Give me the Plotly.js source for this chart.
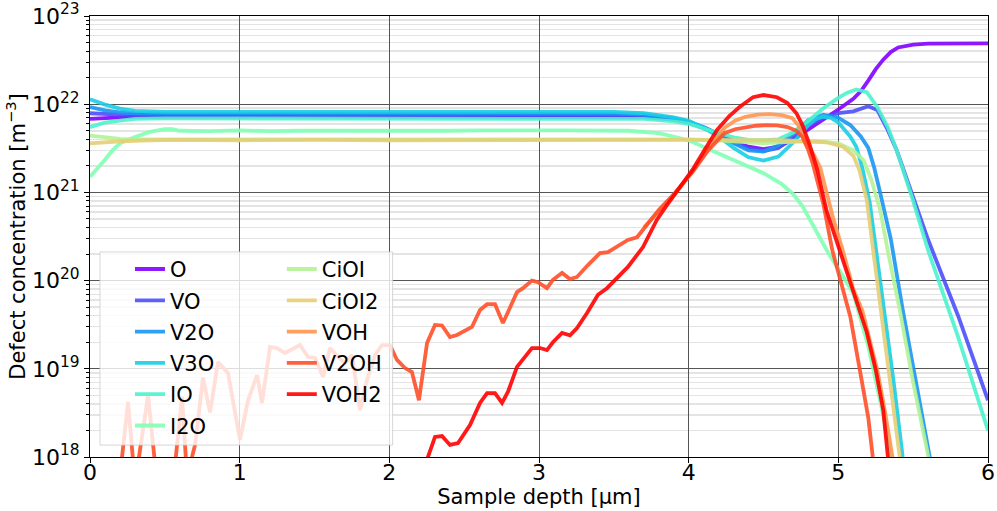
<!DOCTYPE html>
<html><head><meta charset="utf-8">
<script src="https://cdn.plot.ly/plotly-3.0.1.min.js"></script>
<style>html,body{margin:0;padding:0;background:#fff}#chart{width:997px;height:511px}</style>
</head><body><div id="chart"></div>
<script>
// ---- data (depth in µm, concentration in m^-3) ----
const x_O   = [0,0.1,0.2,0.3,0.5,1.0,1.5,2.0,2.5,3.0,3.5,3.7,3.9,4.0,4.1,4.2,4.3,4.4,4.5,4.6,4.7,4.8,4.9,5.0,5.1,5.15,5.2,5.25,5.3,5.35,5.4,5.5,5.6,5.8,6.0];
const y_O   = [6.8e21,7.0e21,7.1e21,7.2e21,7.25e21,7.25e21,7.3e21,7.25e21,7.25e21,7.3e21,7.25e21,7.1e21,6.7e21,6.2e21,5.4e21,4.6e21,3.8e21,3.3e21,3.1e21,3.3e21,4.0e21,5.2e21,6.6e21,8.7e21,1.15e22,1.4e22,1.85e22,2.5e22,3.2e22,3.9e22,4.4e22,4.75e22,4.85e22,4.9e22,4.9e22];

const x_VO  = [0,0.1,0.2,0.4,0.5,1.0,1.5,2.0,2.5,3.0,3.5,3.7,3.9,4.0,4.1,4.2,4.3,4.4,4.5,4.6,4.7,4.8,4.9,5.0,5.1,5.2,5.26,5.33,5.39,5.5,5.6,5.8,6.0];
const y_VO  = [7.9e21,7.7e21,7.6e21,7.5e21,7.5e21,7.55e21,7.5e21,7.5e21,7.55e21,7.5e21,7.5e21,7.35e21,6.8e21,6.2e21,5.4e21,4.6e21,3.7e21,3.15e21,2.95e21,3.2e21,4.2e21,5.8e21,7.0e21,7.9e21,8.3e21,9.5e21,8.6e21,5.1e21,3.0e21,8.8e20,2.9e20,4.0e19,4.4e18];

const x_V2O = [0,0.1,0.2,0.3,0.5,1.0,1.5,2.0,2.5,3.0,3.5,3.7,3.9,4.0,4.1,4.2,4.3,4.4,4.5,4.6,4.7,4.8,4.9,5.0,5.08,5.15,5.2,5.24,5.28,5.35,5.43,5.52,5.61,5.66];
const y_V2O = [9.3e21,8.5e21,8.1e21,7.9e21,7.8e21,7.8e21,7.85e21,7.8e21,7.8e21,7.85e21,7.8e21,7.6e21,6.9e21,6.3e21,5.5e21,4.6e21,3.6e21,3.0e21,2.9e21,3.4e21,4.7e21,6.6e21,7.6e21,7.0e21,5.8e21,4.3e21,3.2e21,1.9e21,9.8e20,3.0e20,4.7e19,6.5e18,1.0e18,3.5e17];

const x_V3O = [0,0.1,0.2,0.3,0.5,1.0,1.5,2.0,2.5,3.0,3.5,3.7,3.9,4.0,4.1,4.2,4.3,4.4,4.5,4.6,4.7,4.8,4.85,4.9,4.95,5.0,5.08,5.12,5.16,5.21,5.25,5.3,5.37,5.43,5.47];
const y_V3O = [1.14e22,9.9e21,8.9e21,8.4e21,8.2e21,8.2e21,8.25e21,8.2e21,8.2e21,8.25e21,8.2e21,7.9e21,7.1e21,6.5e21,5.4e21,4.3e21,3.2e21,2.5e21,2.3e21,2.55e21,3.7e21,5.8e21,6.8e21,7.2e21,7.0e21,6.2e21,4.3e21,3.3e21,1.9e21,7.6e20,2.4e20,5.2e19,7e18,1.0e18,3.5e17];

const x_IO  = [0,0.1,0.2,0.3,0.5,1.0,1.5,2.0,2.5,3.0,3.5,3.7,3.9,4.0,4.1,4.2,4.3,4.4,4.5,4.6,4.7,4.8,4.9,5.0,5.06,5.12,5.19,5.26,5.33,5.39,5.5,5.6,5.8,6.0];
const y_IO  = [5.5e21,6.2e21,6.5e21,6.8e21,6.9e21,6.9e21,6.95e21,6.9e21,6.9e21,6.95e21,6.9e21,6.8e21,6.4e21,6.0e21,5.3e21,4.7e21,4.2e21,3.95e21,3.9e21,4.0e21,4.8e21,6.5e21,9.0e21,1.18e22,1.35e22,1.47e22,1.37e22,9.3e21,5.5e21,3.0e21,8.0e20,2.2e20,2.3e19,2.0e18];

const x_I2O = [0,0.05,0.1,0.15,0.2,0.3,0.4,0.5,0.55,0.6,0.8,1.0,1.2,1.4,1.6,1.8,2.0,2.2,2.4,2.6,2.8,3.0,3.2,3.4,3.6,3.8,4.0,4.15,4.35,4.5,4.62,4.7,4.76,4.84,4.93,5.02,5.1,5.2,5.3,5.36];
const y_I2O = [1.5e21,1.85e21,2.35e21,3.0e21,3.6e21,4.25e21,4.85e21,5.2e21,5.2e21,5.0e21,4.95e21,5.05e21,4.95e21,5.0e21,4.95e21,5.0e21,5.0e21,4.95e21,5.0e21,5.05e21,5.0e21,5.05e21,5.05e21,5.0e21,5.0e21,4.7e21,3.9e21,3.0e21,2.1e21,1.65e21,1.25e21,9.5e20,7.0e20,3.9e20,2.1e20,1.2e20,7.2e19,1.8e19,3e18,8e17];

const x_CiOI = [0,0.1,0.2,0.3,0.5,1.0,1.5,2.0,2.5,3.0,3.5,4.0,4.2,4.4,4.5,4.6,4.8,4.9,5.0,5.1,5.17,5.22,5.28,5.33,5.41,5.5,5.6,5.65];
const y_CiOI = [4.4e21,4.2e21,4.05e21,4.0e21,4.0e21,4.0e21,4.02e21,4.0e21,4.0e21,4.02e21,4.02e21,4.0e21,3.9e21,3.7e21,3.6e21,3.7e21,3.8e21,3.75e21,3.6e21,3.0e21,2.3e21,1.4e21,6.3e20,2.2e20,4.7e19,7e18,1.1e18,4e17];

const x_CiOI2 = [0,0.1,0.2,0.4,0.6,1.0,1.5,2.0,2.5,3.0,3.5,4.0,4.3,4.6,4.8,4.92,5.03,5.1,5.14,5.19,5.23,5.28,5.34,5.40,5.45];
const y_CiOI2 = [3.6e21,3.7e21,3.8e21,3.9e21,3.95e21,3.9e21,3.95e21,3.9e21,3.92e21,3.95e21,3.92e21,3.95e21,3.9e21,3.9e21,3.8e21,3.7e21,3.3e21,2.6e21,1.8e21,8.2e20,2.4e20,5.0e19,7e18,1.0e18,3e17];

const x_VOH = [3.7,3.8,3.9,4.03,4.13,4.24,4.31,4.38,4.46,4.54,4.62,4.69,4.74,4.79,4.84,4.88,4.96,5.03,5.1,5.16,5.26,5.31,5.36,5.4];
const y_VOH = [4.0e20,6.1e20,9.3e20,1.75e21,3.1e21,5.4e21,6.5e21,7.2e21,7.6e21,7.7e21,7.5e21,7.0e21,5.6e21,3.6e21,2.6e21,1.9e21,5.5e20,2.2e20,8e19,4.6e19,9.7e18,3.4e18,1.0e18,4e17];

const x_V2OH = [0,0.2,0.254,0.301,0.388,0.448,0.555,0.615,0.648,0.702,0.755,0.802,0.855,0.922,1.002,1.056,1.116,1.149,1.203,1.249,1.303,1.403,1.457,1.503,1.557,1.604,1.657,1.704,1.751,1.804,1.851,1.904,1.951,2.004,2.051,2.105,2.151,2.198,2.252,2.305,2.352,2.405,2.452,2.552,2.606,2.653,2.706,2.759,2.793,2.853,2.893,2.953,2.993,3.053,3.093,3.154,3.207,3.254,3.327,3.407,3.461,3.541,3.594,3.655,3.72,3.8,3.9,4.03,4.13,4.24,4.31,4.38,4.45,4.52,4.59,4.66,4.72,4.76,4.8,4.83,4.9,4.96,5.02,5.08,5.14,5.2,5.23,5.26];
const y_V2OH = [2e17,6e17,4.2e18,5e17,5.0e18,5e17,5e17,4.8e18,6e17,1.37e18,7.9e18,3.2e18,1.19e19,9.0e18,1.56e18,4.4e18,8.5e18,4.1e18,1.77e19,1.72e19,1.51e19,1.86e19,1.36e19,1.33e19,8.1e18,1.72e19,1.36e19,1.16e19,1.43e19,3.4e18,7.5e18,1.43e19,1.86e19,1.86e19,1.26e19,1.02e19,9.2e18,4.4e18,1.96e19,3.14e19,3.1e19,2.29e19,2.42e19,2.98e19,4.64e19,5.4e19,5.4e19,3.3e19,4.4e19,7.4e19,8.2e19,1.0e20,9.6e19,8.2e19,1.02e20,1.22e20,1.04e20,1.1e20,1.5e20,2.05e20,2.1e20,2.53e20,2.89e20,3.1e20,4.3e20,6.3e20,9.5e20,1.75e21,3.0e21,4.7e21,5.2e21,5.5e21,5.7e21,5.8e21,5.75e21,5.5e21,5.0e21,4.25e21,3.0e21,2.1e21,7.4e20,2.2e20,9.4e19,3.9e19,1.05e19,2.8e18,1.0e18,5e17];

const x_VOH2 = [2.2,2.258,2.305,2.352,2.405,2.459,2.539,2.606,2.653,2.706,2.753,2.793,2.853,2.953,3.007,3.053,3.093,3.154,3.207,3.254,3.321,3.394,3.454,3.521,3.594,3.695,3.788,3.85,3.94,4.03,4.11,4.19,4.27,4.34,4.43,4.5,4.59,4.66,4.72,4.76,4.81,4.86,4.92,4.99,5.06,5.12,5.19,5.25,5.30,5.33,5.36];
const y_VOH2 = [3e17,1.0e18,1.69e18,1.73e18,1.37e18,1.44e18,2.3e18,4.1e18,5.3e18,5.3e18,4.1e18,5.5e18,1.05e19,1.72e19,1.72e19,1.63e19,2.0e19,2.55e19,2.4e19,2.9e19,4.3e19,6.9e19,8.2e19,1.07e20,1.43e20,2.4e20,4.9e20,7.0e20,1.15e21,1.85e21,3.1e21,5.1e21,7.3e21,9.3e21,1.2e22,1.27e22,1.2e22,1.03e22,7.9e21,5.8e21,3.4e21,1.8e21,6.3e20,2.7e20,1.2e20,6e19,2.6e19,9.7e18,3.4e18,1.05e18,5e17];

const seriesNames = ['O','VO','V2O','V3O','IO','I2O','CiOI','CiOI2','VOH','V2OH','VOH2'];
const seriesX = [x_O,x_VO,x_V2O,x_V3O,x_IO,x_I2O,x_CiOI,x_CiOI2,x_VOH,x_V2OH,x_VOH2];
const seriesY = [y_O,y_VO,y_V2O,y_V3O,y_IO,y_I2O,y_CiOI,y_CiOI2,y_VOH,y_V2OH,y_VOH2];
const seriesColors = ['#8000ff','#4d4ffc','#1a96f3','#1acee3','#4df3ce','#80ffb4','#b3f396','#e6ce74','#ff964f','#ff4f28','#ff0000'];

const xTickVals = [0,1,2,3,4,5,6];
const yTickVals = [1e18,1e19,1e20,1e21,1e22,1e23];
const yTickText = ['10<sup>18</sup>','10<sup>19</sup>','10<sup>20</sup>','10<sup>21</sup>','10<sup>22</sup>','10<sup>23</sup>'];

const minorVals = [];
for (let e = 18; e < 23; e++) for (let m = 2; m <= 9; m++) minorVals.push(m * Math.pow(10, e));

const traces = seriesNames.map((n, i) => ({
  type: 'scatter', mode: 'lines', name: n,
  x: seriesX[i], y: seriesY[i],
  line: {color: seriesColors[i], width: 3.8},
  opacity: 0.9,
  legend: i < 6 ? 'legend' : 'legend2',
  legendgroup: 'g' + i
}));

const FONT = 'DejaVu Sans, sans-serif';
const legendCommon = {
  xanchor: 'left', yanchor: 'top', bgcolor: 'rgba(0,0,0,0)', borderwidth: 0,
  font: {family: FONT, size: 21, color: '#000'}, tracegroupgap: 1
};

const layout = {
  width: 997, height: 511,
  margin: {l: 90, r: 9, t: 16, b: 54},
  paper_bgcolor: '#ffffff', plot_bgcolor: '#ffffff',
  font: {family: FONT, size: 22, color: '#000'},
  showlegend: true,
  xaxis: {
    range: [0, 6], tickvals: xTickVals, ticks: 'outside', ticklen: 5, tickcolor: '#000', tickwidth: 1,
    showline: true, mirror: true, linecolor: '#000', linewidth: 1,
    showgrid: true, gridcolor: '#555', gridwidth: 1, zeroline: false,
    tickfont: {family: FONT, size: 22}, ticklabelstandoff: -9,
    title: {text: 'Sample depth [µm]', font: {family: FONT, size: 21}, standoff: 2}
  },
  yaxis: {
    type: 'log', range: [18, 23], tickvals: yTickVals, ticktext: yTickText,
    ticks: 'outside', ticklen: 5, tickcolor: '#000', tickwidth: 1,
    showline: true, mirror: true, linecolor: '#000', linewidth: 1,
    showgrid: true, gridcolor: '#555', gridwidth: 1, zeroline: false,
    tickfont: {family: FONT, size: 22},
    minor: {tickvals: minorVals, ticks: 'outside', ticklen: 3, tickcolor: '#000', tickwidth: 1,
            showgrid: true, gridcolor: '#e4e4e4', gridwidth: 1.5},
    title: {text: 'Defect concentration [m<sup>−3</sup>]', font: {family: FONT, size: 21}, standoff: 0}
  },
  legend: Object.assign({x: 0.0445, y: 0.472}, legendCommon),
  legend2: Object.assign({x: 0.2136, y: 0.472}, legendCommon),
  shapes: [{
    type: 'rect', xref: 'paper', yref: 'paper', layer: 'above',
    x0: 0.0111, x1: 0.337, y0: 0.027, y1: 0.465,
    fillcolor: 'rgba(255,255,255,0.8)', line: {color: 'rgba(204,204,204,0.8)', width: 1}
  }]
};

Plotly.newPlot('chart', traces, layout, {displayModeBar: false, staticPlot: true});
</script></body></html>
